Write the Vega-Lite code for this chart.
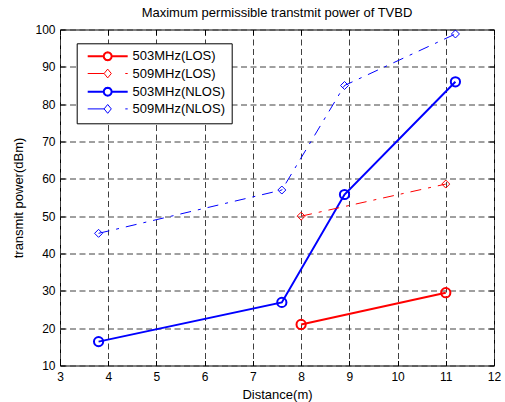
{
  "$schema": "https://vega.github.io/schema/vega-lite/v6.json",
  "width": 434,
  "height": 336,
  "autosize": {"type": "none"},
  "padding": {"left": 60, "top": 29.5, "right": 11, "bottom": 36.5},
  "background": "white",
  "config": {
    "font": "Liberation Sans",
    "view": {"stroke": "black", "strokeWidth": 1},
    "axis": {"labelFont": "Liberation Sans", "titleFont": "Liberation Sans", "labelColor": "black", "titleColor": "black", "labelFontSize": 12, "titleFontSize": 13, "titleFontWeight": "normal", "tickColor": "black", "domain": false}
  },
  "title": {"text": "Maximum permissible transtmit power of TVBD", "fontSize": 13, "fontWeight": "normal", "font": "Liberation Sans", "color": "black", "offset": 4, "anchor": "middle"},
  "data": {
    "values": [
      {"series": "503MHz(LOS)", "x": 8, "y": 21},
      {"series": "503MHz(LOS)", "x": 11, "y": 29.5},
      {"series": "509MHz(LOS)", "x": 8, "y": 50},
      {"series": "509MHz(LOS)", "x": 11, "y": 58.6},
      {"series": "503MHz(NLOS)", "x": 3.8, "y": 16.4},
      {"series": "503MHz(NLOS)", "x": 7.6, "y": 26.9},
      {"series": "503MHz(NLOS)", "x": 8.9, "y": 55.8},
      {"series": "503MHz(NLOS)", "x": 11.2, "y": 86},
      {"series": "509MHz(NLOS)", "x": 3.8, "y": 45.4},
      {"series": "509MHz(NLOS)", "x": 7.6, "y": 57},
      {"series": "509MHz(NLOS)", "x": 8.9, "y": 85},
      {"series": "509MHz(NLOS)", "x": 11.2, "y": 98.8}
    ]
  },
  "resolve": {"axis": {"x": "independent", "y": "independent"}},
  "layer": [
    {
      "transform": [{"filter": "indexof(datum.series, '503') >= 0"}],
      "mark": {"type": "line", "strokeWidth": 2},
      "encoding": {
        "x": {"field": "x", "type": "quantitative", "scale": {"domain": [3, 12], "nice": false, "zero": false},
          "axis": {"orient": "bottom", "values": [3,4,5,6,7,8,9,10,11,12], "grid": true, "gridColor": "#404040", "gridDash": [6, 3.5], "gridOpacity": 1, "tickSize": -5, "labelPadding": 11, "labelFlush": false, "title": "Distance(m)", "titlePadding": 6}},
        "y": {"field": "y", "type": "quantitative", "scale": {"domain": [10, 100], "nice": false, "zero": false},
          "axis": {"orient": "left", "values": [10,20,30,40,50,60,70,80,90,100], "grid": true, "gridColor": "#404040", "gridDash": [6, 3.5], "gridOpacity": 1, "tickSize": -5, "labelPadding": 10, "labelFlush": false, "title": "transmit power(dBm)", "titlePadding": 9}},
        "color": {"field": "series", "type": "nominal", "scale": {"domain": ["503MHz(LOS)", "509MHz(LOS)", "503MHz(NLOS)", "509MHz(NLOS)"], "range": ["#ff0000", "#ff0000", "#0000ff", "#0000ff"]},
          "legend": {"title": null, "orient": "none", "legendX": 16.7, "legendY": 13.8, "symbolType": "M-0.5,0H9.5", "symbolSize": 64, "labelOffset": 36.3, "labelFontSize": 13, "labelFont": "Liberation Sans", "labelColor": "black", "strokeColor": "black", "fillColor": "white", "padding": 6.5, "rowPadding": 2.2, "symbolStrokeWidth": 2, "labelLimit": 200,
            "labelExpr": "datum.label + ' '",
            "encode": {"symbols": {"update": {
              "shape": {"signal": "indexof('' + datum.value, '503') >= 0 ? 'M-0.5,0H3.5M5.5,0H9.5M5.5,0L5.366,0.5L5,0.866L4.5,1L4,0.866L3.634,0.5L3.5,0L3.634,-0.5L4,-0.866L4.5,-1L5,-0.866L5.366,-0.5Z' : 'M-0.5,0H3.6M4.5,-1.1L5.4,0L4.5,1.1L3.6,0ZM8.9,0H9.5'"},
              "strokeWidth": {"signal": "indexof('' + datum.value, '503') >= 0 ? 2 : 1"}}}}}}
      }
    },
    {
      "transform": [{"filter": "indexof(datum.series, '509') >= 0"}],
      "mark": {"type": "line", "strokeWidth": 1, "strokeDash": [11, 7, 3, 7]},
      "encoding": {
        "x": {"field": "x", "type": "quantitative",
          "axis": {"orient": "top", "values": [3,4,5,6,7,8,9,10,11,12], "grid": false, "labels": false, "tickSize": -5, "title": null}},
        "y": {"field": "y", "type": "quantitative",
          "axis": {"orient": "right", "values": [10,20,30,40,50,60,70,80,90,100], "grid": false, "labels": false, "tickSize": -5, "title": null}},
        "color": {"field": "series", "type": "nominal", "legend": null}
      }
    },
    {
      "transform": [{"filter": "indexof(datum.series, '503') >= 0"}],
      "mark": {"type": "point", "shape": "circle", "filled": false, "size": 85, "strokeWidth": 2, "opacity": 1},
      "encoding": {
        "x": {"field": "x", "type": "quantitative", "axis": null},
        "y": {"field": "y", "type": "quantitative", "axis": null},
        "color": {"field": "series", "type": "nominal", "legend": null}
      }
    },
    {
      "transform": [{"filter": "indexof(datum.series, '509') >= 0"}],
      "mark": {"type": "point", "shape": "diamond", "filled": false, "size": 64, "strokeWidth": 1, "opacity": 1},
      "encoding": {
        "x": {"field": "x", "type": "quantitative", "axis": null},
        "y": {"field": "y", "type": "quantitative", "axis": null},
        "color": {"field": "series", "type": "nominal", "legend": null}
      }
    }
  ]
}
